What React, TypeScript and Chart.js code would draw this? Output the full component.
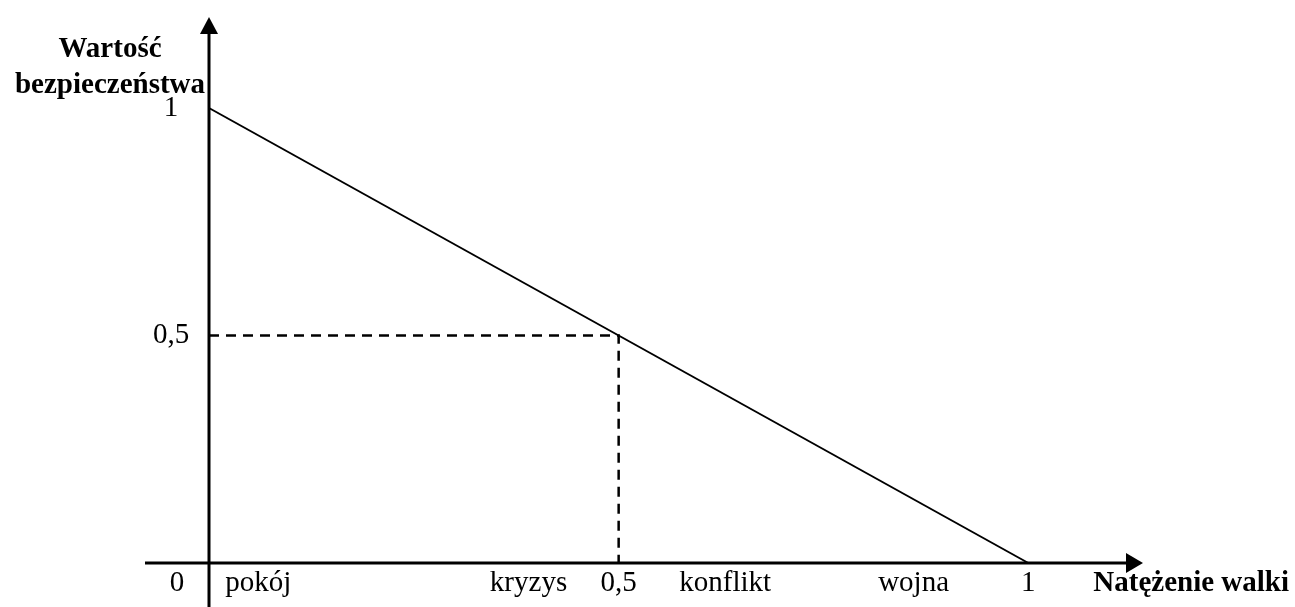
import React, { useEffect, useRef } from 'react';
import { Chart, registerables } from 'chart.js';

Chart.register(...registerables);

// ---- data ----
const lineX = [0, 0.5, 1];
const lineY = [1, 0.5, 0];
const guideX = [0, 0.5, 0.5];
const guideY = [0.5, 0.5, 0];
const xTickValues = [0.5, 1];
const xTickLabels = ['0,5', '1'];
const yTickValues = [0.5, 1];
const yTickLabels = ['0,5', '1'];
const originLabel = '0';
const zoneLabels = ['pokój', 'kryzys', 'konflikt', 'wojna'];
const zoneCenters = [0.06, 0.39, 0.63, 0.86];
const yTitleLines = ['Wartość', 'bezpieczeństwa'];
const xTitle = 'Natężenie walki';

const X_MAX = 1.14;
const Y_MAX = 1.2;

const FONT = '"Liberation Serif", "Times New Roman", serif';

const sketchAxes = {
  id: 'sketchAxes',
  afterDatasetsDraw(chart: any) {
    const { ctx, chartArea, scales } = chart;
    const xs = scales.x;
    const ys = scales.y;
    const x0 = xs.getPixelForValue(0);
    const y0 = ys.getPixelForValue(0);
    ctx.save();
    ctx.strokeStyle = '#000';
    ctx.fillStyle = '#000';
    ctx.lineWidth = 3;
    ctx.lineCap = 'butt';

    // y axis with arrow
    ctx.beginPath();
    ctx.moveTo(x0, chart.height);
    ctx.lineTo(x0, chartArea.top + 14);
    ctx.stroke();
    ctx.beginPath();
    ctx.moveTo(x0, chartArea.top);
    ctx.lineTo(x0 - 9, chartArea.top + 17);
    ctx.lineTo(x0 + 9, chartArea.top + 17);
    ctx.closePath();
    ctx.fill();

    // x axis with arrow
    ctx.beginPath();
    ctx.moveTo(x0 - 64, y0);
    ctx.lineTo(chartArea.right - 14, y0);
    ctx.stroke();
    ctx.beginPath();
    ctx.moveTo(chartArea.right, y0);
    ctx.lineTo(chartArea.right - 17, y0 - 10);
    ctx.lineTo(chartArea.right - 17, y0 + 10);
    ctx.closePath();
    ctx.fill();

    // x labels
    ctx.font = `29px ${FONT}`;
    ctx.textBaseline = 'alphabetic';
    ctx.textAlign = 'center';
    const base = y0 + 28;
    ctx.fillText(originLabel, x0 - 32, base);
    xTickValues.forEach((v, i) => {
      ctx.fillText(xTickLabels[i], xs.getPixelForValue(v), base);
    });
    zoneLabels.forEach((t, i) => {
      ctx.fillText(t, xs.getPixelForValue(zoneCenters[i]), base);
    });

    // y labels
    ctx.textBaseline = 'middle';
    yTickValues.forEach((v, i) => {
      ctx.fillText(yTickLabels[i], x0 - 38, ys.getPixelForValue(v));
    });

    // titles
    ctx.font = `bold 29px ${FONT}`;
    ctx.textBaseline = 'alphabetic';
    ctx.textAlign = 'center';
    ctx.fillText(yTitleLines[0], x0 - 99, chartArea.top + 40);
    ctx.fillText(yTitleLines[1], x0 - 99, chartArea.top + 76);
    ctx.textAlign = 'right';
    ctx.fillText(xTitle, chart.width - 6, base);
    ctx.restore();
  },
};

export default function App() {
  const canvasRef = useRef<HTMLCanvasElement | null>(null);

  useEffect(() => {
    document.body.style.margin = '0';
    const canvas = canvasRef.current;
    if (!canvas) return;
    const chart = new Chart(canvas, {
      type: 'scatter',
      data: {
        datasets: [
          {
            data: lineX.map((x, i) => ({ x, y: lineY[i] })),
            showLine: true,
            borderColor: '#000',
            borderWidth: 2,
            pointRadius: 0,
            clip: false as any,
          },
          {
            data: guideX.map((x, i) => ({ x, y: guideY[i] })),
            showLine: true,
            borderColor: '#000',
            borderWidth: 2.5,
            borderDash: [10, 7],
            pointRadius: 0,
            clip: false as any,
          },
        ],
      },
      options: {
        responsive: false,
        animation: false,
        devicePixelRatio: 1,
        layout: { padding: { left: 209, right: 152, top: 17, bottom: 44 } },
        plugins: { legend: { display: false }, tooltip: { enabled: false } },
        scales: {
          x: { type: 'linear', min: 0, max: X_MAX, display: false },
          y: { type: 'linear', min: 0, max: Y_MAX, display: false },
        },
      },
      plugins: [sketchAxes],
    });
    return () => chart.destroy();
  }, []);

  return (
    <div style={{ position: 'absolute', left: 0, top: 0, width: 1295, height: 607, background: '#fff' }}>
      <canvas ref={canvasRef} width={1295} height={607} />
    </div>
  );
}
